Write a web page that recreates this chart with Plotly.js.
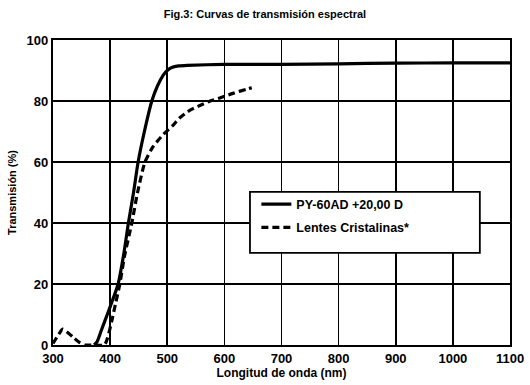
<!DOCTYPE html>
<html>
<head>
<meta charset="utf-8">
<script src="https://cdn.plot.ly/plotly-3.0.1.min.js"></script>
<style>html,body{margin:0;padding:0;background:#fff;}#chart{width:530px;height:385px;}</style>
</head>
<body>
<div id="chart"></div>
<script>
// Solid curve: PY-60AD +20,00 D
const pyWavelength = [372, 377, 385, 391, 400, 414, 424, 432, 441, 449, 460, 473, 483, 493, 500, 508, 520, 535, 600, 700, 800, 900, 1000, 1100];
const pyTransmission = [0, 1, 5, 8, 12.5, 20, 30, 40, 50, 60, 70, 80, 85, 88.5, 90, 91, 91.5, 91.7, 92, 92, 92.2, 92.4, 92.5, 92.5];

// Dashed curve: Lentes Cristalinas*
const lcWavelength = [300, 310, 317, 325, 335, 345, 356, 370, 390, 395, 403, 410, 417, 425, 438, 448, 461, 475, 493, 510, 522, 540, 557, 575, 592, 615, 641, 648];
const lcTransmission = [0.5, 3.5, 5.2, 4.2, 2.6, 1, 0, 0, 0, 2, 8, 14, 20, 29, 40, 50, 60, 65, 69, 72, 74.5, 77, 78.5, 80, 81, 82.5, 84, 84.3];

const xTicks = [300, 400, 500, 600, 700, 800, 900, 1000, 1100];
const yTicks = [0, 20, 40, 60, 80, 100];
const seriesNames = ['PY-60AD +20,00 D', 'Lentes Cristalinas*'];

const FONT = 'Liberation Sans, Arial, sans-serif';

const traces = [
  {x: pyWavelength, y: pyTransmission, name: '<b>' + seriesNames[0] + '</b>', mode: 'lines',
   line: {color: '#000', width: 3.2, shape: 'spline', smoothing: 0.6}, legendgroup: 'a'},
  {x: lcWavelength, y: lcTransmission, name: '<b>' + seriesNames[1] + '</b>', mode: 'lines',
   line: {color: '#000', width: 3.2, dash: '7px,4px', shape: 'spline', smoothing: 0.6}, legendgroup: 'b'}
];

const axisCommon = {
  showgrid: true, gridcolor: '#000', gridwidth: 1.6,
  showline: true, linecolor: '#000', linewidth: 2.2, mirror: true,
  zeroline: false, ticks: '', fixedrange: true,
  tickfont: {family: FONT, size: 13, color: '#000', weight: 'bold'}
};

const layout = {
  width: 530, height: 385,
  margin: {l: 53, r: 20, t: 40, b: 40},
  paper_bgcolor: '#fff', plot_bgcolor: '#fff',
  title: {text: '<b>Fig.3: Curvas de transmisión espectral</b>', x: 0.5, xanchor: 'center', y: 0.962, yanchor: 'middle',
          font: {family: FONT, size: 11, color: '#000'}},
  xaxis: Object.assign({}, axisCommon, {
    range: [300, 1100], tickvals: xTicks, ticktext: xTicks.map(v => '<b>' + v + '</b>'),
    title: {text: '<b>Longitud de onda (nm)</b>', standoff: 2, font: {family: FONT, size: 12, color: '#000'}}
  }),
  yaxis: Object.assign({}, axisCommon, {
    range: [0, 100], tickvals: yTicks, ticktext: yTicks.map(v => '<b>' + v + '</b>'),
    title: {text: '<b>Transmisión (%)</b>', standoff: 8, font: {family: FONT, size: 11, color: '#000'}}
  }),
  shapes: [
    {type: 'rect', xref: 'paper', yref: 'paper', x0: 0.431, x1: 0.934, y0: 0.302, y1: 0.502,
     fillcolor: '#fff', line: {color: '#000', width: 1.8}, layer: 'above'}
  ],
  showlegend: true,
  legend: {
    x: 0.445, y: 0.51, xanchor: 'left', yanchor: 'top',
    bgcolor: 'rgba(0,0,0,0)', borderwidth: 0,
    font: {family: FONT, size: 12.5, color: '#000'},
    tracegroupgap: 4, traceorder: 'grouped'
  }
};

Plotly.newPlot('chart', traces, layout, {displayModeBar: false, staticPlot: true});
</script>
</body>
</html>
